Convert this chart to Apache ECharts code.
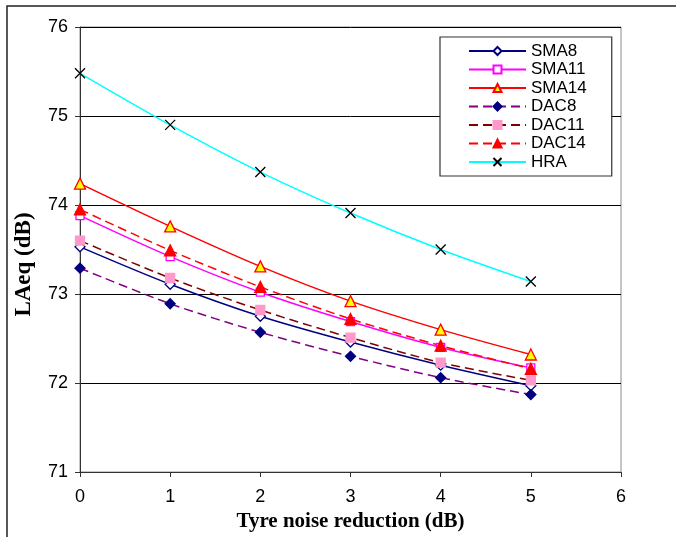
<!DOCTYPE html>
<html>
<head>
<meta charset="utf-8">
<script src="https://cdn.jsdelivr.net/npm/echarts@6/dist/echarts.min.js"></script>
<style>
  html, body { margin: 0; padding: 0; background: #fff; }
  #chart { width: 676px; height: 537px; }
</style>
</head>
<body>
<div id="chart"></div>
<script>
// Tyre noise reduction (dB) on x, LAeq (dB) on y
const xValues = [0, 1, 2, 3, 4, 5];
const sma8  = [73.53, 73.11, 72.75, 72.46, 72.20, 71.97];
const sma11 = [73.88, 73.42, 73.02, 72.69, 72.40, 72.17];
const sma14 = [74.24, 73.76, 73.31, 72.92, 72.60, 72.32];
const dac8  = [73.29, 72.89, 72.57, 72.30, 72.06, 71.87];
const dac11 = [73.60, 73.18, 72.82, 72.51, 72.23, 72.03];
const dac14 = [73.95, 73.49, 73.08, 72.72, 72.42, 72.16];
const hra   = [75.48, 74.90, 74.37, 73.91, 73.50, 73.14];

const pairs = ys => xValues.map((x, i) => [x, ys[i]]);
const dash = [9, 5];
const cross = 'path://M0,0L10,10M10,0L0,10';

function line(name, ys, lineColor, lineType, symbol, size, fill, border) {
  return {
    name, type: 'line', data: pairs(ys), smooth: 0.3,
    symbol, symbolSize: size,
    lineStyle: { color: lineColor, width: 1.5, type: lineType },
    itemStyle: { color: fill, borderColor: border, borderWidth: 1.3 },
    emphasis: { disabled: true },
    z: 3
  };
}

const chart = echarts.init(document.getElementById('chart'));
chart.setOption({
  animation: false,
  textStyle: { fontFamily: 'Liberation Sans' },
  grid: {
    left: 80, top: 27, right: 55, bottom: 60,
    show: true, borderColor: '#8c8c8c', borderWidth: 1
  },
  xAxis: {
    type: 'value', min: 0, max: 6, interval: 1,
    name: 'Tyre noise reduction (dB)', nameLocation: 'middle', nameGap: 39,
    nameTextStyle: { fontFamily: 'Liberation Serif', fontWeight: 'bold', fontSize: 21, color: '#000' },
    axisLine: { lineStyle: { color: '#333', width: 1 } },
    axisTick: { show: true, inside: false, length: 5, lineStyle: { color: '#333' } },
    axisLabel: { fontSize: 18, color: '#000', margin: 16 },
    splitLine: { show: false }
  },
  yAxis: {
    type: 'value', min: 71, max: 76, interval: 1,
    name: 'LAeq (dB)', nameLocation: 'middle', nameGap: 44, nameRotate: 90,
    nameTextStyle: { fontFamily: 'Liberation Serif', fontWeight: 'bold', fontSize: 23, color: '#000', padding: [0, 30, 0, 0] },
    axisLine: { show: true, lineStyle: { color: '#333', width: 1 } },
    axisTick: { show: true, inside: false, length: 5, lineStyle: { color: '#333' } },
    axisLabel: { fontSize: 18, color: '#000', margin: 12 },
    splitLine: { show: true, lineStyle: { color: '#000', width: 1 } }
  },
  legend: {
    orient: 'vertical', left: 440, top: 37,
    padding: [5, 25, 5, 28],
    backgroundColor: '#fff', borderColor: '#333', borderWidth: 1.2,
    itemWidth: 57, itemHeight: 10, itemGap: 0.5,
    textStyle: { fontSize: 17, color: '#000', lineHeight: 18 },
    data: ['SMA8', 'SMA11', 'SMA14', 'DAC8', 'DAC11', 'DAC14', 'HRA']
  },
  graphic: [{
    type: 'polyline', silent: true,
    shape: { points: [[7, 537], [7, 6], [676, 6]] },
    style: { stroke: '#222', lineWidth: 1.5, fill: null }
  }],
  series: [
    line('SMA8',  sma8,  '#000080', 'solid', 'diamond',  10, '#fff',    '#000080'),
    line('SMA11', sma11, '#ff00ff', 'solid', 'rect',      8, '#fff',    '#ff00ff'),
    line('SMA14', sma14, '#ff0000', 'solid', 'triangle', 11, '#ffff00', '#ff0000'),
    line('DAC8',  dac8,  '#800080', dash,    'diamond',  10, '#000080', '#000080'),
    line('DAC11', dac11, '#800000', dash,    'rect',      9, '#ff99cc', '#ff99cc'),
    line('DAC14', dac14, '#ff0000', dash,    'triangle', 11, '#ff0000', '#ff0000'),
    line('HRA',   hra,   '#00ffff', 'solid', cross,      10, 'none',    '#000')
  ]
});
</script>
</body>
</html>
